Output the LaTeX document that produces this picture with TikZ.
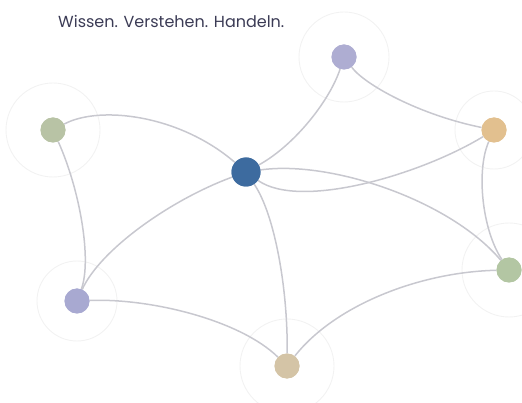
\documentclass[tikz,border=0pt]{standalone}
\usepackage{fontspec}
\setmainfont{Poppins}
\definecolor{hubblue}{HTML}{3D6B9F}
\definecolor{lavender}{HTML}{AEADD2}
\definecolor{sage}{HTML}{B8C3A5}
\definecolor{sand}{HTML}{E2C08F}
\definecolor{mint}{HTML}{B3C6A3}
\definecolor{lilac}{HTML}{A8A9D1}
\definecolor{beige}{HTML}{D4C4A6}
\definecolor{linkgray}{HTML}{C8C8CF}
\definecolor{halogray}{HTML}{F2F2F2}
\definecolor{slogan}{HTML}{3B3B55}
\begin{document}
\begin{tikzpicture}[
		x=1pt, y=-1pt,
		spoke/.style={circle, inner sep=0, minimum size=25pt},
		hub/.style={spoke, fill=hubblue, minimum size=29pt},
		halo/.style={draw=halogray, line width=0.9pt},
		link/.style={draw=linkgray, line width=1.5pt},
	]
	\useasboundingbox (0,0) rectangle (522,403);
	% nodes
	\node[hub] (center) at (246,172) {};
	\node[spoke, fill=lavender] (top) at (344,57) {};
	\node[spoke, fill=sage] (left) at (53,130) {};
	\node[spoke, fill=sand] (right) at (494,130) {};
	\node[spoke, fill=mint] (lowright) at (509,270) {};
	\node[spoke, fill=lilac] (lowleft) at (77,301) {};
	\node[spoke, fill=beige] (bottom) at (287,366) {};
	% halos
	\draw[halo] (top) circle[radius=45pt];
	\draw[halo] (left) circle[radius=47pt];
	\draw[halo] (right) circle[radius=39pt];
	\draw[halo] (lowright) circle[radius=47pt];
	\draw[halo] (lowleft) circle[radius=40pt];
	\draw[halo] (bottom) circle[radius=47pt];
	% links
	\draw[link] (left) .. controls (100,105) and (180,115) .. (center);
	\draw[link] (left) .. controls (80,190) and (92,260) .. (lowleft);
	\draw[link] (lowleft) .. controls (100,250) and (170,200) .. (center);
	\draw[link] (lowleft) .. controls (150,298) and (240,320) .. (bottom);
	\draw[link] (center) .. controls (275,215) and (288,290) .. (bottom);
	\draw[link] (bottom) .. controls (335,305) and (420,272) .. (lowright);
	\draw[link] (center) .. controls (295,145) and (330,100) .. (top);
	\draw[link] (top) .. controls (365,85) and (420,115) .. (right);
	\draw[link] (center) .. controls (300,210) and (420,175) .. (right);
	\draw[link] (center) .. controls (330,160) and (450,200) .. (lowright);
	\draw[link] (right) .. controls (476,170) and (482,230) .. (lowright);
	% nodes again on top of links
	\node[hub] at (center) {};
	\foreach \n/\c in {top/lavender, left/sage, right/sand, lowright/mint, lowleft/lilac, bottom/beige}
		\node[spoke, fill=\c] at (\n) {};
	% slogan
	\node[anchor=west, inner sep=0, text=slogan, font=\fontsize{16}{18}\selectfont] (title) at (58,21) {Wissen. Verstehen. Handeln.};
\end{tikzpicture}
\end{document}
